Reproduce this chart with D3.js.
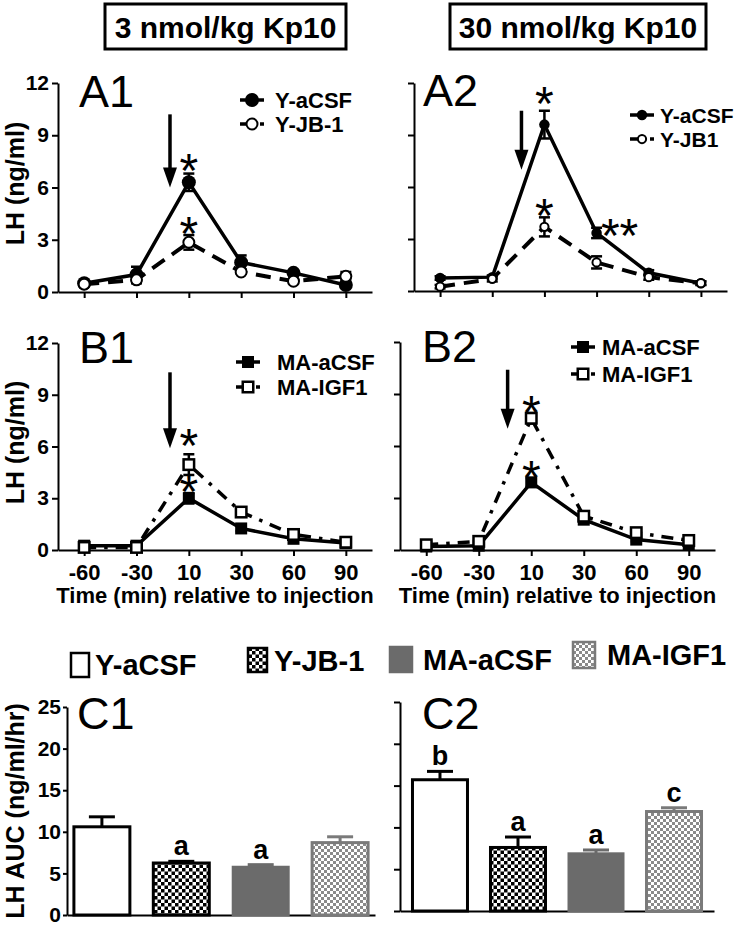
<!DOCTYPE html>
<html><head><meta charset="utf-8">
<script src="https://cdn.jsdelivr.net/npm/d3@7"></script>
<style>body{margin:0;background:#fff} svg{display:block}</style>
</head><body><svg id="c" width="750" height="926"></svg>
<script>
// ---------- data ----------
const timeLabels = ["-60","-30","10","30","60","90"];
const lhTicks = [0,3,6,9,12];
const aucTicks = [0,5,10,15,20,25];
const groups = ["Y-aCSF","Y-JB-1","MA-aCSF","MA-IGF1"];

const a1YaCSF    = [0.5, 1.0, 6.3, 1.7, 1.1, 0.4];
const a1YaCSFErr = [0.1, 0.45, 0.5, 0.4, 0.15, 0.1];
const a1YJB1     = [0.45, 0.7, 2.85, 1.15, 0.62, 0.9];
const a1YJB1Err  = [0.1, 0.2, 0.42, 0.1, 0.1, 0.25];

const a2YaCSF    = [0.75, 0.8, 9.6, 3.35, 1.05, 0.45];
const a2YaCSFErr = [0.1, 0.1, 0.8, 0.3, 0.15, 0.1];
const a2YJB1     = [0.25, 0.7, 3.7, 1.65, 0.8, 0.45];
const a2YJB1Err  = [0.1, 0.15, 0.55, 0.35, 0.15, 0.1];

const b1MAaCSF    = [0.25, 0.25, 3.0, 1.25, 0.65, 0.4];
const b1MAaCSFErr = [0.1, 0.1, 0.3, 0.15, 0.15, 0.1];
const b1MAIGF1    = [0.15, 0.15, 4.95, 2.2, 0.9, 0.45];
const b1MAIGF1Err = [0.05, 0.05, 0.6, 0.15, 0.15, 0.1];

const b2MAaCSF    = [0.2, 0.25, 3.9, 1.75, 0.6, 0.3];
const b2MAaCSFErr = [0.1, 0.1, 0.25, 0.15, 0.1, 0.1];
const b2MAIGF1    = [0.3, 0.5, 7.6, 1.95, 1.0, 0.55];
const b2MAIGF1Err = [0.1, 0.1, 0.3, 0.15, 0.15, 0.1];

const c1AUC    = [10.6, 6.25, 5.8, 8.7];
const c1AUCErr = [1.2, 0.2, 0.25, 0.7];
const c1Sig    = ["", "a", "a", ""];
const c2AUC    = [15.7, 7.6, 6.9, 11.9];
const c2AUCErr = [1.0, 1.25, 0.4, 0.45];
const c2Sig    = ["b", "a", "a", "c"];

// ---------- drawing ----------
const FONT = '"Liberation Sans", Arial, Helvetica, sans-serif';
const svg = d3.select("#c").attr("font-family", FONT);
svg.append("rect").attr("width",750).attr("height",926).attr("fill","#fff");
const defs = svg.append("defs");
function checker(id, size, color){
  const p = defs.append("pattern").attr("id",id).attr("width",size*2).attr("height",size*2)
    .attr("patternUnits","userSpaceOnUse");
  p.append("rect").attr("width",size*2).attr("height",size*2).attr("fill","#fff");
  p.append("rect").attr("width",size).attr("height",size).attr("fill",color);
  p.append("rect").attr("x",size).attr("y",size).attr("width",size).attr("height",size).attr("fill",color);
}
checker("chkB", 3.5, "#000");
checker("chkG", 3, "#8a8a8a");

const lineStyles = {
  solidCircle:  {dash:null, sw:3.5, marker:"circle", fill:"#000", stroke:"#000", size:7},
  dashCircle:   {dash:"15,9", sw:4, marker:"circle", fill:"#fff", stroke:"#000", size:5.5},
  solidSquare:  {dash:null, sw:3.5, marker:"square", fill:"#000", stroke:"#000", size:12},
  dotdashSquare:{dash:"12,8,3.5,8", sw:3.5, marker:"square", fill:"#fff", stroke:"#000", size:10.5}
};

function marker(g, cx, cy, st, scale){
  const s = (scale||1);
  if(st.marker==="circle"){
    g.append("circle").attr("cx",cx).attr("cy",cy).attr("r",st.size*s)
      .attr("fill",st.fill).attr("stroke",st.stroke).attr("stroke-width", st.fill==="#fff"?2:0);
  } else {
    const w = st.size*s;
    g.append("rect").attr("x",cx-w/2).attr("y",cy-w/2).attr("width",w).attr("height",w)
      .attr("fill",st.fill).attr("stroke",st.stroke).attr("stroke-width", st.fill==="#fff"?2.5:0);
  }
}

function styleAxis(a, fs){
  a.attr("font-family", FONT);
  a.select(".domain").attr("stroke-width",2).attr("stroke","#000");
  a.selectAll(".tick line").attr("stroke-width",2).attr("stroke","#000");
  a.selectAll(".tick text").attr("font-size",fs).attr("font-weight","bold").attr("fill","#000");
}

function linePanel(cfg){
  const g = svg.append("g");
  const x = d3.scalePoint().domain(timeLabels).range([cfg.left, cfg.right]).padding(0.5);
  const y = d3.scaleLinear().domain([0,12]).range([cfg.bottom, cfg.top]);
  const ya = d3.axisLeft(y).tickValues(lhTicks).tickSize(6).tickSizeOuter(0).tickPadding(3);
  if(!cfg.yLabels) ya.tickFormat("");
  styleAxis(g.append("g").attr("transform",`translate(${cfg.left},0)`).call(ya), 21);
  const xa = d3.axisBottom(x).tickSize(6).tickSizeOuter(0).tickPadding(8);
  if(!cfg.xLabels) xa.tickFormat("");
  styleAxis(g.append("g").attr("transform",`translate(0,${cfg.bottom})`).call(xa), 22);

  if(cfg.xLabels){
    g.append("text").attr("x",(cfg.left+cfg.right)/2).attr("y",cfg.bottom+53)
      .attr("text-anchor","middle").attr("font-size",22).attr("font-weight","bold")
      .text("Time (min) relative to injection");
  }
  if(cfg.yLabels){
    g.append("text").attr("transform",`translate(24,${(cfg.top+cfg.bottom)/2 - 4}) rotate(-90)`)
      .attr("text-anchor","middle").attr("font-size",25).attr("font-weight","bold")
      .text("LH (ng/ml)");
  }
  g.append("text").attr("x",cfg.labelX).attr("y",cfg.labelY).attr("font-size",45).text(cfg.label);

  // series
  cfg.series.forEach(s=>{
    const st = lineStyles[s.style];
    const pts = timeLabels.map((t,i)=>({t, v:s.values[i], e:s.errs[i]}));
    g.append("path").datum(pts)
      .attr("d", d3.line().x(d=>x(d.t)).y(d=>y(d.v)))
      .attr("fill","none").attr("stroke","#000").attr("stroke-width",st.sw)
      .attr("stroke-dasharray",st.dash);
    pts.forEach(d=>{
      const cx = x(d.t);
      g.append("line").attr("x1",cx).attr("x2",cx).attr("y1",y(d.v-d.e)).attr("y2",y(d.v+d.e))
        .attr("stroke","#000").attr("stroke-width",2.5);
      [d.v-d.e, d.v+d.e].forEach(v=>g.append("line").attr("x1",cx-5.5).attr("x2",cx+5.5)
        .attr("y1",y(v)).attr("y2",y(v)).attr("stroke","#000").attr("stroke-width",2.5));
      marker(g, cx, y(d.v), st, cfg.markerScale);
    });
  });

  // arrow (injection)
  const ax = x("-30") + cfg.arrow.frac*(x("10")-x("-30"));
  const yTop = y(cfg.arrow.from), yTip = y(cfg.arrow.to);
  g.append("line").attr("x1",ax).attr("x2",ax).attr("y1",yTop).attr("y2",yTip-16)
    .attr("stroke","#000").attr("stroke-width",3.5);
  g.append("path").attr("d",`M${ax-7},${yTip-20}L${ax+7},${yTip-20}L${ax},${yTip}Z`).attr("fill","#000");

  // significance stars
  cfg.stars.forEach(a=>{
    const s = cfg.series[a.s];
    const i = timeLabels.indexOf(a.t);
    const cy = y(s.values[i]+s.errs[i]) + a.dy;
    g.append("text").attr("x",x(a.t)+(a.dx||0)).attr("y",cy+27).attr("text-anchor","middle")
      .attr("font-size",48).text(a.text);
  });

  // legend
  cfg.series.forEach((s,k)=>{
    const st = lineStyles[s.style];
    const base = cfg.legend.baselines[k], cy = base-8;
    const lx = cfg.legend.cx;
    g.append("line").attr("x1",lx-12).attr("x2",lx+12).attr("y1",cy).attr("y2",cy)
      .attr("stroke","#000").attr("stroke-width",3.5).attr("stroke-dasharray",st.dash?"8,5,3,4":null);
    marker(g, lx, cy, st, cfg.markerScale);
    g.append("text").attr("x",cfg.legend.textX).attr("y",base).attr("font-size",cfg.legend.fs||22)
      .attr("font-weight","bold").text(s.name);
  });
}

linePanel({left:58,right:372,top:83,bottom:292,yLabels:true,xLabels:false,label:"A1",labelX:79,labelY:107,
  series:[{name:"Y-aCSF",values:a1YaCSF,errs:a1YaCSFErr,style:"solidCircle"},
          {name:"Y-JB-1",values:a1YJB1,errs:a1YJB1Err,style:"dashCircle"}],
  arrow:{frac:0.64,from:10.2,to:6.0},
  stars:[{t:"10",s:0,dy:-14,text:"*"},{t:"10",s:1,dy:-12,text:"*"}],
  legend:{cx:252,textX:275,baselines:[108,132]}});

linePanel({left:414,right:727,top:83,bottom:291,yLabels:false,xLabels:false,label:"A2",labelX:423,labelY:106,
  markerScale:0.75,
  series:[{name:"Y-aCSF",values:a2YaCSF,errs:a2YaCSFErr,style:"solidCircle"},
          {name:"Y-JB1",values:a2YJB1,errs:a2YJB1Err,style:"dashCircle"}],
  arrow:{frac:0.56,from:10.4,to:7.0},
  stars:[{t:"10",s:0,dy:-18,text:"*"},{t:"10",s:1,dy:-12,text:"*"},{t:"30",s:0,dy:-3,dx:23,text:"**"}],
  legend:{cx:642,textX:660,baselines:[123,147],fs:21}});

linePanel({left:58,right:372,top:343,bottom:550,yLabels:true,xLabels:true,label:"B1",labelX:79,labelY:363,
  series:[{name:"MA-aCSF",values:b1MAaCSF,errs:b1MAaCSFErr,style:"solidSquare"},
          {name:"MA-IGF1",values:b1MAIGF1,errs:b1MAIGF1Err,style:"dotdashSquare"}],
  arrow:{frac:0.64,from:10.3,to:5.9},
  stars:[{t:"10",s:1,dy:-19,text:"*"},{t:"10",s:0,dy:-12,text:"*"}],
  legend:{cx:248,textX:277,baselines:[370,395]}});

linePanel({left:400,right:715,top:342,bottom:550,yLabels:false,xLabels:true,label:"B2",labelX:422,labelY:362,
  series:[{name:"MA-aCSF",values:b2MAaCSF,errs:b2MAaCSFErr,style:"solidSquare"},
          {name:"MA-IGF1",values:b2MAIGF1,errs:b2MAIGF1Err,style:"dotdashSquare"}],
  arrow:{frac:0.55,from:10.4,to:7.0},
  stars:[{t:"10",s:1,dy:-11,text:"*"},{t:"10",s:0,dy:-11,text:"*"}],
  legend:{cx:583,textX:602,baselines:[355,382]}});

// ---------- bar panels ----------
const barStyles = [
  {fill:"#fff", stroke:"#000", sw:3, err:"#000"},
  {fill:"url(#chkB)", stroke:"#000", sw:3, err:"#000"},
  {fill:"#6b6b6b", stroke:"#6b6b6b", sw:2, err:"#6b6b6b"},
  {fill:"url(#chkG)", stroke:"#7a7a7a", sw:3, err:"#7a7a7a"}
];

function barPanel(cfg){
  const g = svg.append("g");
  const x = d3.scaleBand().domain(groups).range([cfg.left, cfg.right]).paddingInner(0.295).paddingOuter(cfg.po);
  const y = d3.scaleLinear().domain([0,25]).range([cfg.bottom, cfg.top]);
  const ya = d3.axisLeft(y).tickValues(aucTicks).tickSize(cfg.yLabels?4:6).tickSizeOuter(0).tickPadding(2);
  if(!cfg.yLabels) ya.tickFormat("");
  styleAxis(g.append("g").attr("transform",`translate(${cfg.left},0)`).call(ya), 21);
  const xa = d3.axisBottom(x).tickSize(0).tickSizeOuter(0).tickFormat("");
  styleAxis(g.append("g").attr("transform",`translate(0,${cfg.bottom})`).call(xa), 21);
  if(cfg.yLabels){
    g.append("text").attr("transform",`translate(24,${(cfg.top+cfg.bottom)/2}) rotate(-90)`)
      .attr("text-anchor","middle").attr("font-size",25).attr("font-weight","bold")
      .text("LH AUC (ng/ml/hr)");
  }
  g.append("text").attr("x",cfg.labelX).attr("y",cfg.labelY).attr("font-size",45).text(cfg.label);
  groups.forEach((grp,i)=>{
    const st = barStyles[i];
    const bx = x(grp), bw = x.bandwidth(), v = cfg.values[i], e = cfg.errs[i];
    const cx = bx + bw/2;
    g.append("line").attr("x1",cx).attr("x2",cx).attr("y1",y(v)).attr("y2",y(v+e))
      .attr("stroke",st.err).attr("stroke-width",3);
    g.append("line").attr("x1",cx-13).attr("x2",cx+13).attr("y1",y(v+e)).attr("y2",y(v+e))
      .attr("stroke",st.err).attr("stroke-width",3);
    g.append("rect").attr("x",bx).attr("y",y(v)).attr("width",bw).attr("height",y(0)-y(v))
      .attr("fill",st.fill).attr("stroke",st.stroke).attr("stroke-width",st.sw);
    if(cfg.sig[i]){
      g.append("text").attr("x",cx).attr("y",y(v+e)-6).attr("text-anchor","middle")
        .attr("font-size",27).attr("font-weight","bold").text(cfg.sig[i]);
    }
  });
}

barPanel({left:67,right:375,po:0.087,top:707,bottom:915,yLabels:true,label:"C1",labelX:77,labelY:729,
  values:c1AUC,errs:c1AUCErr,sig:c1Sig});
barPanel({left:400,right:714,po:0.16,top:702,bottom:911,yLabels:false,label:"C2",labelX:422,labelY:729,
  values:c2AUC,errs:c2AUCErr,sig:c2Sig});

// bar legend
const barLegend = [
  {box:[71,653,18,24], tx:95, ty:675},
  {box:[248,648,19,24], tx:274, ty:671},
  {box:[390,647,22,25], tx:423, ty:670},
  {box:[573,642,22,26], tx:607, ty:665}
];
groups.forEach((grp,i)=>{
  const L = barLegend[i], st = barStyles[i];
  svg.append("rect").attr("x",L.box[0]).attr("y",L.box[1]).attr("width",L.box[2]).attr("height",L.box[3])
    .attr("fill",st.fill).attr("stroke",st.stroke).attr("stroke-width",2.5);
  svg.append("text").attr("x",L.tx).attr("y",L.ty).attr("font-size",29).attr("font-weight","bold").text(grp);
});

// dose headers
const headers = [{t:"3 nmol/kg Kp10", x:105, w:241}, {t:"30 nmol/kg Kp10", x:450, w:256}];
headers.forEach(h=>{
  svg.append("rect").attr("x",h.x).attr("y",4).attr("width",h.w).attr("height",45)
    .attr("fill","none").attr("stroke","#000").attr("stroke-width",3);
  svg.append("text").attr("x",h.x+h.w/2).attr("y",38).attr("text-anchor","middle")
    .attr("font-size",30).attr("font-weight","bold").text(h.t);
});
</script></body></html>
